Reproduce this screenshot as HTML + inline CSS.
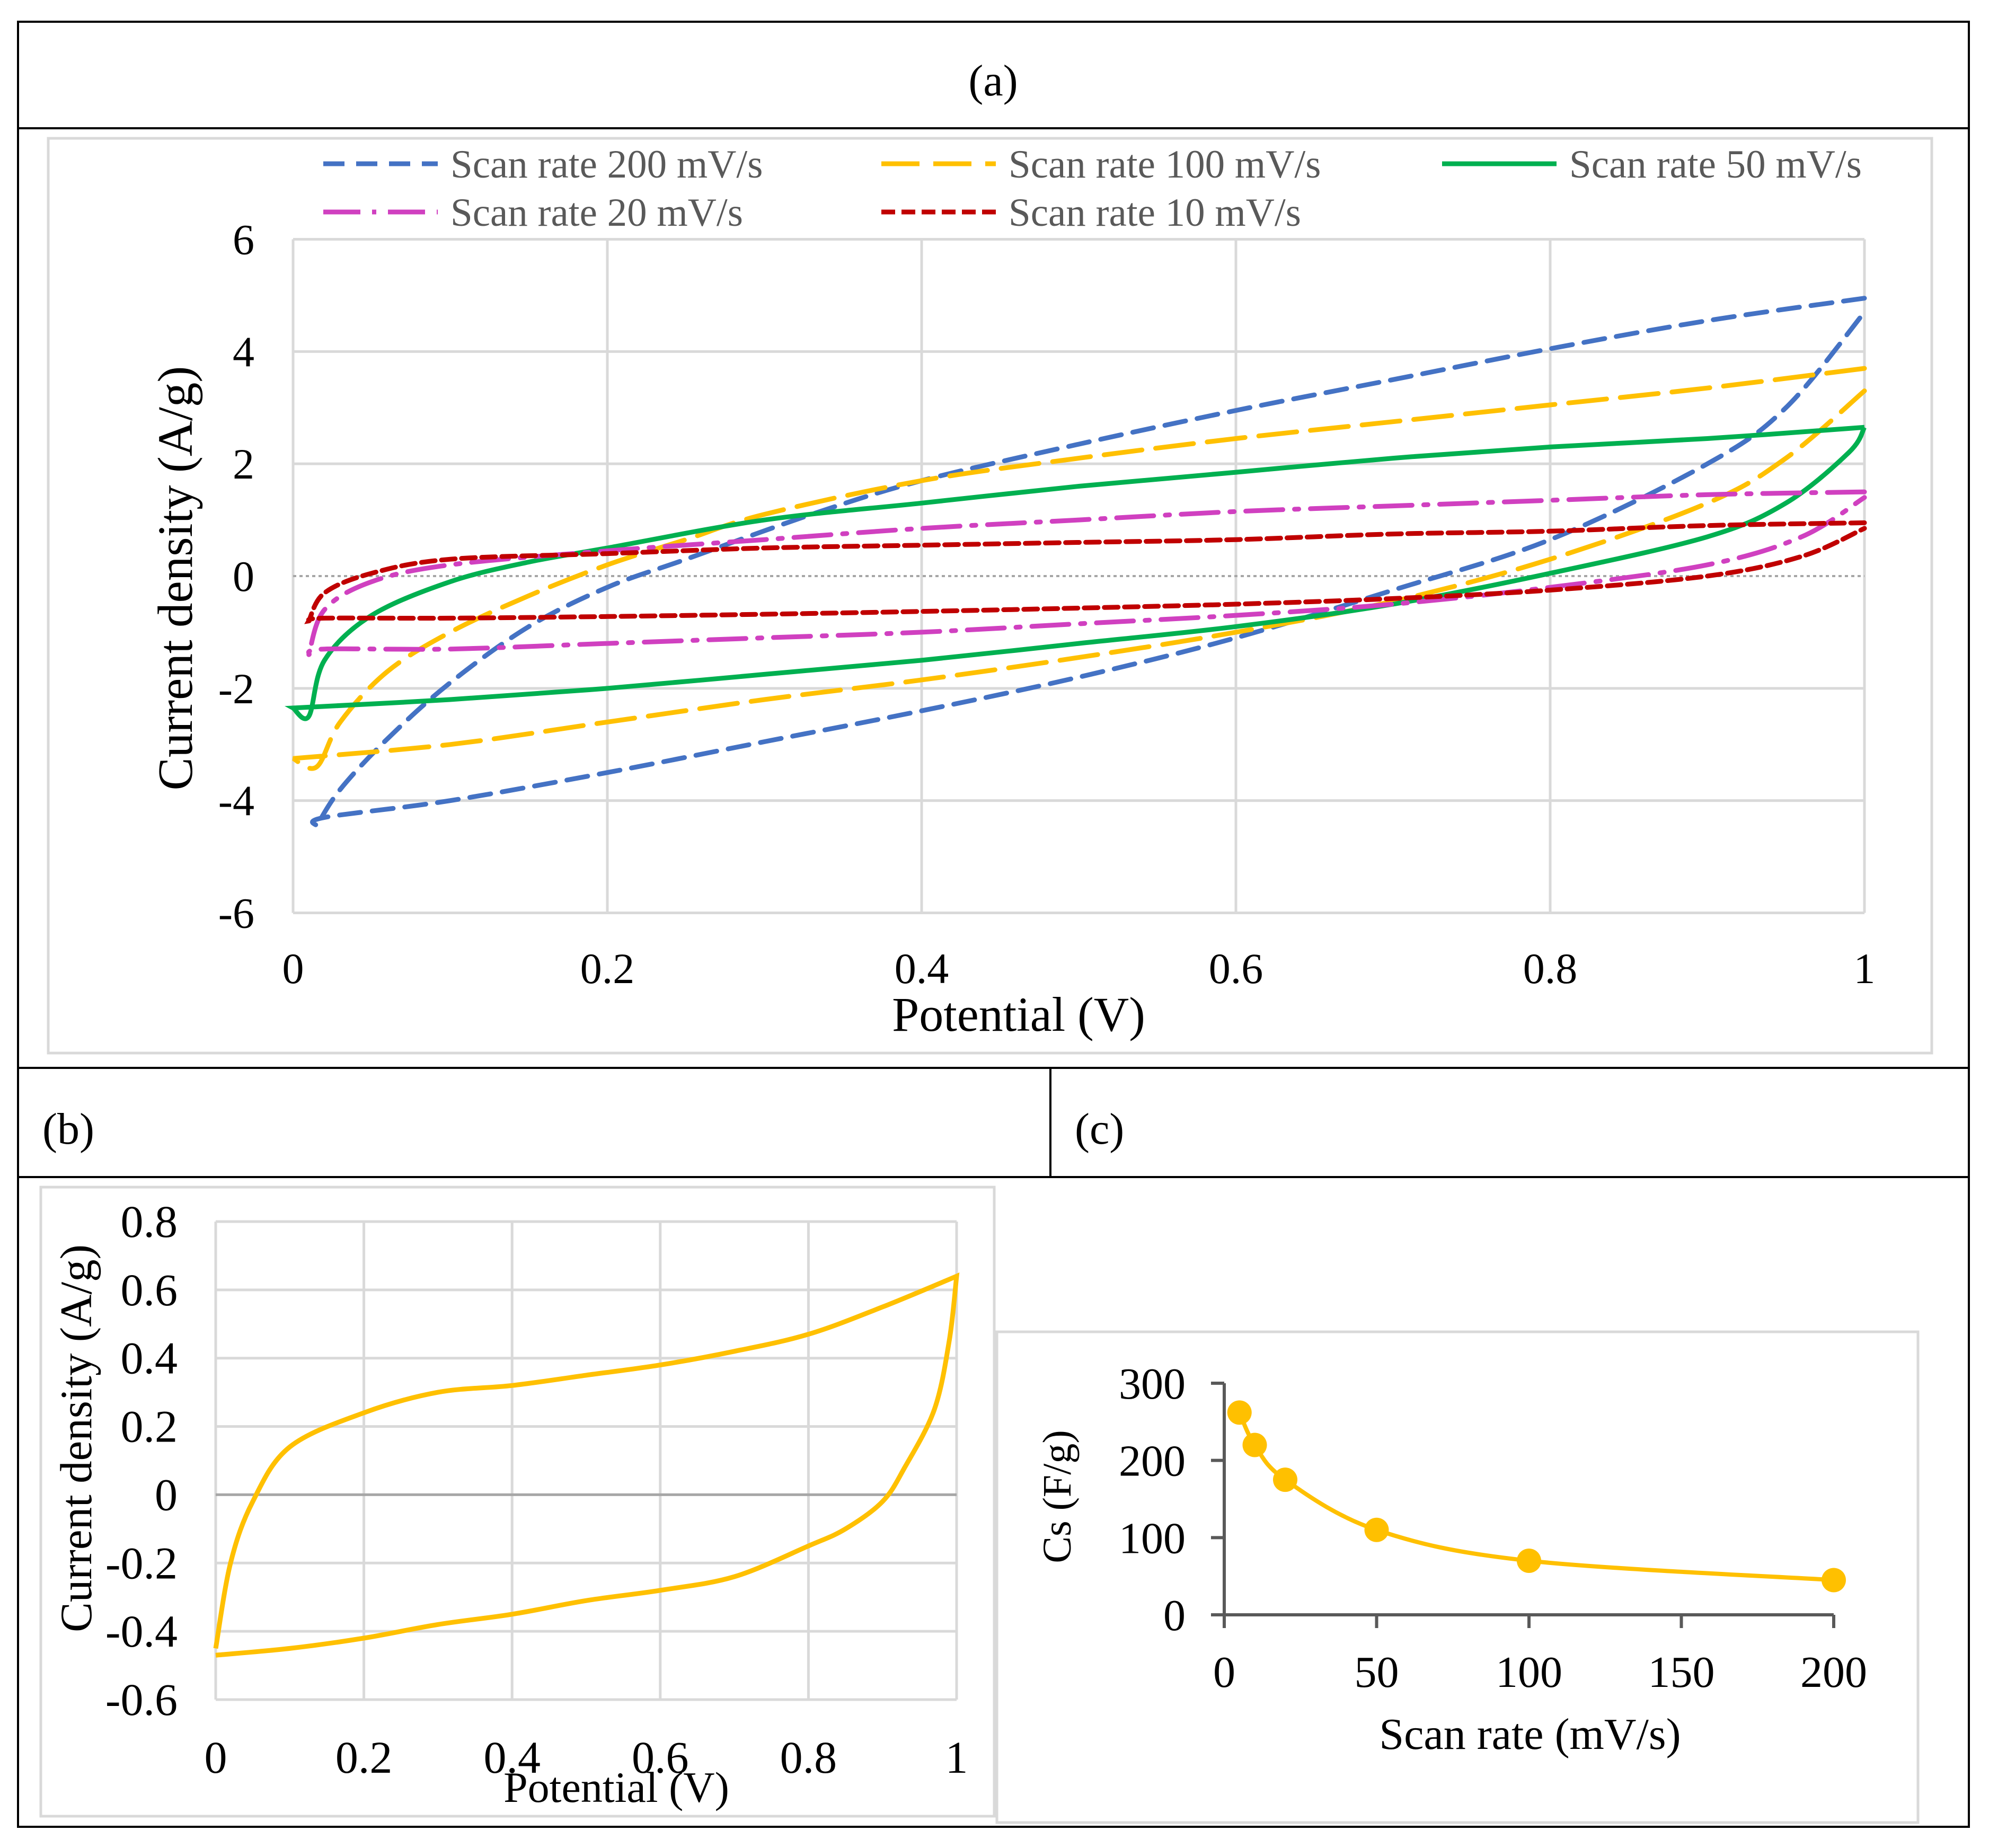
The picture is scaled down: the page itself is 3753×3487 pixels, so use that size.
<!DOCTYPE html>
<html><head><meta charset="utf-8"><style>
html,body{margin:0;padding:0;background:#fff}
svg{display:block}
text{font-family:"Liberation Serif",serif}
</style></head><body>
<svg id="fig" width="3753" height="3487" viewBox="0 0 3753 3487" xmlns="http://www.w3.org/2000/svg">
<g fill="none" stroke="#000" stroke-width="4">
<rect x="34" y="41" width="3681" height="3406"/>
<line x1="34" y1="242" x2="3715" y2="242"/>
<line x1="34" y1="2015" x2="3715" y2="2015"/>
<line x1="34" y1="2221" x2="3715" y2="2221"/>
<line x1="1982" y1="2015" x2="1982" y2="2221"/>
</g>
<text x="1874" y="180" font-size="84" text-anchor="middle">(a)</text>
<text x="80" y="2158" font-size="84">(b)</text>
<text x="2028" y="2158" font-size="84">(c)</text>
<rect x="91" y="261" width="3554" height="1726" fill="none" stroke="#d9d9d9" stroke-width="5"/>
<rect x="77" y="2240" width="1799" height="1187" fill="none" stroke="#d9d9d9" stroke-width="5"/>
<rect x="1881" y="2513" width="1738" height="926" fill="none" stroke="#d9d9d9" stroke-width="5"/>
<g id="ga"></g><g id="gb"></g><g id="gc"></g>
</svg>
<script>
// Panel (a) data
const aXTicks=[0,0.2,0.4,0.6,0.8,1];
const aYTicks=[-6,-4,-2,0,2,4,6];
const s200x=[1,0.9,0.8,0.7,0.6,0.5,0.4,0.33,0.25,0.2,0.15,0.1,0.06,0.03,0.015,0.02,0.1,0.2,0.3,0.4,0.5,0.6,0.7,0.8,0.9,0.95,1];
const s200y=[4.95,4.55,4.05,3.5,2.95,2.35,1.7,1.1,0.3,-0.2,-0.9,-1.9,-2.9,-3.8,-4.45,-4.3,-4.0,-3.5,-2.95,-2.4,-1.8,-1.1,-0.25,0.65,2.0,3.0,4.7];
const s100x=[1,0.9,0.8,0.7,0.6,0.5,0.4,0.3,0.25,0.2,0.15,0.1,0.06,0.03,0.015,0,0.1,0.2,0.3,0.4,0.5,0.6,0.7,0.8,0.9,0.95,1];
const s100y=[3.7,3.35,3.05,2.75,2.45,2.1,1.7,1.1,0.65,0.2,-0.35,-1.0,-1.7,-2.6,-3.4,-3.25,-3.0,-2.6,-2.2,-1.85,-1.45,-1.0,-0.45,0.3,1.3,2.1,3.3];
const s50x=[1,0.9,0.8,0.7,0.6,0.5,0.4,0.3,0.2,0.15,0.1,0.05,0.02,0.01,0,0.1,0.2,0.3,0.4,0.5,0.6,0.7,0.8,0.9,0.95,0.99,1];
const s50y=[2.65,2.45,2.3,2.1,1.85,1.6,1.3,1.0,0.5,0.25,-0.1,-0.7,-1.5,-2.5,-2.35,-2.2,-2.0,-1.75,-1.5,-1.2,-0.9,-0.5,0.05,0.7,1.3,2.2,2.65];
const s20x=[1,0.9,0.8,0.7,0.6,0.5,0.4,0.3,0.2,0.1,0.05,0.02,0.01,0.02,0.1,0.2,0.3,0.4,0.5,0.6,0.7,0.8,0.9,0.96,1];
const s20y=[1.5,1.45,1.35,1.25,1.15,1.0,0.85,0.65,0.45,0.2,-0.1,-0.6,-1.4,-1.3,-1.3,-1.2,-1.1,-1.0,-0.85,-0.7,-0.5,-0.2,0.2,0.7,1.4];
const s10x=[1,0.9,0.8,0.7,0.6,0.5,0.4,0.3,0.2,0.1,0.05,0.02,0.01,0.02,0.1,0.2,0.3,0.4,0.5,0.6,0.7,0.8,0.9,0.96,1];
const s10y=[0.95,0.9,0.8,0.75,0.65,0.6,0.55,0.5,0.4,0.3,0.05,-0.3,-0.8,-0.75,-0.75,-0.72,-0.68,-0.63,-0.57,-0.5,-0.4,-0.25,0.0,0.35,0.85];
const seriesNames=["Scan rate 200 mV/s","Scan rate 100 mV/s","Scan rate 50 mV/s","Scan rate 20 mV/s","Scan rate 10 mV/s"];
// Panel (b) data
const bXTicks=[0,0.2,0.4,0.6,0.8,1];
const bYTicks=[-0.6,-0.4,-0.2,0,0.2,0.4,0.6,0.8];
const bx=[0,0.02,0.05,0.1,0.2,0.3,0.4,0.5,0.6,0.7,0.8,0.9,1,0.99,0.97,0.93,0.9,0.85,0.8,0.7,0.6,0.5,0.4,0.3,0.2,0.1,0];
const by=[-0.45,-0.2,-0.02,0.14,0.24,0.3,0.32,0.35,0.38,0.42,0.47,0.55,0.64,0.45,0.25,0.08,-0.02,-0.1,-0.15,-0.24,-0.28,-0.31,-0.35,-0.38,-0.42,-0.45,-0.47];
// Panel (c) data
const cXTicks=[0,50,100,150,200];
const cYTicks=[0,100,200,300];
const cRates=[5,10,20,50,100,200];
const cCs=[262,220,175,110,70,45];

const NS="http://www.w3.org/2000/svg";
function mk(tag,attrs,parent){const e=document.createElementNS(NS,tag);for(const k in attrs)e.setAttribute(k,attrs[k]);parent.appendChild(e);return e;}
function smooth(pts){
  const brk=new Set();
  for(let i=1;i<pts.length-1;i++){const a=pts[i][0]-pts[i-1][0],b=pts[i+1][0]-pts[i][0];if(a*b<0)brk.add(i);}
  let d="M"+pts[0][0].toFixed(1)+","+pts[0][1].toFixed(1);
  for(let i=0;i<pts.length-1;i++){
    const p1=pts[i],p2=pts[i+1];
    const p0=(i===0||brk.has(i))?p1:pts[i-1];
    const p3=(i+2>=pts.length||brk.has(i+1))?p2:pts[i+2];
    const c1=[p1[0]+(p2[0]-p0[0])/6,p1[1]+(p2[1]-p0[1])/6],c2=[p2[0]-(p3[0]-p1[0])/6,p2[1]-(p3[1]-p1[1])/6];
    d+=" C"+c1[0].toFixed(1)+","+c1[1].toFixed(1)+" "+c2[0].toFixed(1)+","+c2[1].toFixed(1)+" "+p2[0].toFixed(1)+","+p2[1].toFixed(1);}
  return d;}

// ---- Panel a
const ga=document.getElementById('ga');
const ax=v=>553+v*(3518-553), ay=v=>1087-v*(1723-452)/12;
aXTicks.forEach(t=>{const l=mk('line',{x1:ax(t),x2:ax(t),y1:ay(6),y2:ay(-6),stroke:'#d9d9d9','stroke-width':5},ga);

const tx=mk('text',{x:ax(t),y:1855,'font-size':82,'text-anchor':'middle'},ga);tx.textContent=t;
});
aYTicks.forEach(t=>{if(t!==0){const l=mk('line',{x1:ax(0),x2:ax(1),y1:ay(t),y2:ay(t),stroke:'#d9d9d9','stroke-width':5},ga);
}
const tx=mk('text',{x:480,y:ay(t)+28,'font-size':82,'text-anchor':'end'},ga);tx.textContent=t;
});
const z=mk('line',{x1:ax(0),x2:ax(1),y1:ay(0),y2:ay(0),stroke:'#a6a6a6','stroke-width':4,'stroke-dasharray':'6,6'},ga);

const styles=[{c:'#4472c4',d:'40,22'},{c:'#ffc000',d:'72,26'},{c:'#00b050',d:''},{c:'#d040c0',d:'70,22,8,22'},{c:'#c00000',d:'26,12'}];
const sx=[s200x,s100x,s50x,s20x,s10x], sy=[s200y,s100y,s50y,s20y,s10y];
const names=['series-200mvs','series-100mvs','series-50mvs','series-20mvs','series-10mvs'];
for(let i=0;i<5;i++){const pts=sx[i].map((x,j)=>[ax(x),ay(sy[i][j])]);
const p=mk('path',{d:smooth(pts),fill:'none',stroke:styles[i].c,'stroke-width':9,'stroke-dasharray':styles[i].d,'stroke-linecap':i==2?'butt':'round'},ga);
}
const legPos=[[610,309],[1663,309],[2721,309],[610,400],[1663,400]];
for(let i=0;i<5;i++){const [lx,lyy]=legPos[i];
const l=mk('line',{x1:lx,x2:lx+216,y1:lyy,y2:lyy,stroke:styles[i].c,'stroke-width':9,'stroke-dasharray':styles[i].d},ga);

const t=mk('text',{x:lx+240,y:lyy+26,'font-size':75,fill:'#595959'},ga);t.textContent=seriesNames[i];
}
let t1=mk('text',{x:1922,y:1945,'font-size':92,'text-anchor':'middle'},ga);t1.textContent='Potential (V)';

let t2=mk('text',{x:0,y:0,'font-size':93,'text-anchor':'middle',transform:'translate(362,1091) rotate(-90)'},ga);t2.textContent='Current density (A/g)';


// ---- Panel b
const gb=document.getElementById('gb');
const bxs=v=>407+v*(1805-407), bys=v=>2305+(0.8-v)*(3207-2305)/1.4;
bXTicks.forEach(t=>{const l=mk('line',{x1:bxs(t),x2:bxs(t),y1:bys(0.8),y2:bys(-0.6),stroke:'#d9d9d9','stroke-width':5},gb);

const tx=mk('text',{x:bxs(t),y:3345,'font-size':86,'text-anchor':'middle'},gb);tx.textContent=t;
});
bYTicks.forEach(t=>{const l=mk('line',{x1:bxs(0),x2:bxs(1),y1:bys(t),y2:bys(t),stroke:t===0?'#a6a6a6':'#d9d9d9','stroke-width':5},gb);

const tx=mk('text',{x:335,y:bys(t)+29,'font-size':86,'text-anchor':'end'},gb);tx.textContent=(Math.round(t*10)/10).toString();
});
const bp=mk('path',{d:smooth(bx.map((x,j)=>[bxs(x),bys(by[j])])),fill:'none',stroke:'#ffc000','stroke-width':9},gb);

let t3=mk('text',{x:1163,y:3400,'font-size':82,'text-anchor':'middle'},gb);t3.textContent='Potential (V)';

let t4=mk('text',{x:0,y:0,'font-size':85,'text-anchor':'middle',transform:'translate(172,2714) rotate(-90)'},gb);t4.textContent='Current density (A/g)';


// ---- Panel c
const gc=document.getElementById('gc');
const cx=v=>2310+v*(3460-2310)/200, cy=v=>3047-v*(3047-2610)/300;
const axl=mk('path',{d:`M${cx(0)},${cy(300)} L${cx(0)},${cy(0)} L${cx(200)},${cy(0)}`,fill:'none',stroke:'#595959','stroke-width':6},gc);

cXTicks.forEach(t=>{const l=mk('line',{x1:cx(t),x2:cx(t),y1:cy(0),y2:cy(0)+25,stroke:'#595959','stroke-width':6},gc);

const tx=mk('text',{x:cx(t),y:3183,'font-size':84,'text-anchor':'middle'},gc);tx.textContent=t;
});
cYTicks.forEach(t=>{const l=mk('line',{x1:cx(0)-25,x2:cx(0),y1:cy(t),y2:cy(t),stroke:'#595959','stroke-width':6},gc);

const tx=mk('text',{x:2237,y:cy(t)+29,'font-size':84,'text-anchor':'end'},gc);tx.textContent=t;
});
const cp=mk('path',{d:smooth(cRates.map((r,j)=>[cx(r),cy(cCs[j])])),fill:'none',stroke:'#ffc000','stroke-width':8},gc);

cRates.forEach((r,j)=>{const c=mk('circle',{cx:cx(r),cy:cy(cCs[j]),r:23,fill:'#ffc000'},gc);
});
let t5=mk('text',{x:2887,y:3300,'font-size':84,'text-anchor':'middle'},gc);t5.textContent='Scan rate (mV/s)';

let t6=mk('text',{x:0,y:0,'font-size':76,'text-anchor':'middle',transform:'translate(2020,2824) rotate(-90)'},gc);t6.textContent='Cs (F/g)';

</script>
</body></html>
